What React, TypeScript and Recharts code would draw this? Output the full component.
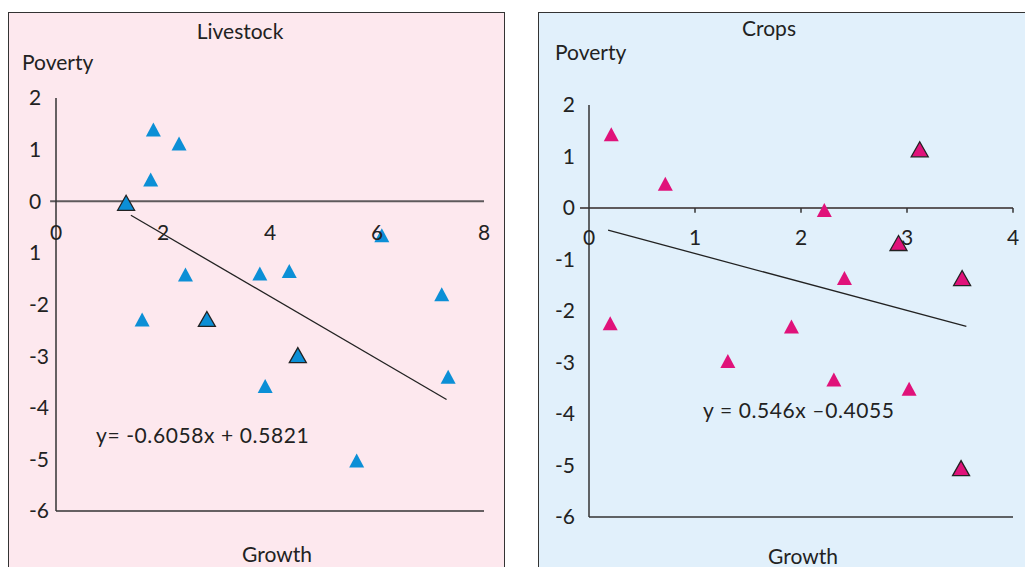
import React from "react";
import { ScatterChart, Scatter, XAxis, YAxis, ReferenceLine } from "recharts";

// Livestock panel
const livestockGrowth = [1.82, 2.3, 1.77, 6.09, 2.42, 3.81, 4.36, 7.21, 1.61, 3.91, 7.33, 5.62];
const livestockPoverty = [1.39, 1.12, 0.42, -0.66, -1.42, -1.4, -1.35, -1.8, -2.29, -3.58, -3.4, -5.02];
const livestockMarkedGrowth = [1.31, 2.82, 4.52];
const livestockMarkedPoverty = [-0.03, -2.28, -2.98];
const livestockFitX = [1.4, 7.3];
const livestockFitY = [-0.27, -3.84];
const livestockXTicks = [0, 2, 4, 6, 8];
const livestockYTicks = [-6, -5, -4, -3, -2, -1, 0, 1, 2];
const livestockYLabels = ["-6", "-5", "-4", "-3", "-2", "1", "0", "1", "2"];

// Crops panel
const cropsGrowth = [0.21, 0.72, 2.22, 2.41, 0.2, 1.91, 1.31, 2.31, 3.02];
const cropsPoverty = [1.43, 0.47, -0.04, -1.36, -2.24, -2.3, -2.97, -3.33, -3.51];
const cropsMarkedGrowth = [3.12, 2.92, 3.52, 3.51];
const cropsMarkedPoverty = [1.14, -0.68, -1.36, -5.05];
const cropsFitX = [0.18, 3.56];
const cropsFitY = [-0.43, -2.3];
const cropsXTicks = [0, 1, 2, 3, 4];
const cropsYTicks = [-6, -5, -4, -3, -2, -1, 0, 1, 2];

const FONT = "Lato, 'Open Sans', sans-serif";
const INK = "#222";
const AXIS_W = 30;
const AXIS_H = 30;

const zip = (xs: number[], ys: number[]) => xs.map((x, i) => ({ x, y: ys[i] }));

const triangle = (fill: string, w: number, h: number, stroke?: string) => (props: any) => {
  const { cx, cy } = props;
  if (cx == null || cy == null) return <g />;
  const pts = `${cx},${cy - h / 2} ${cx - w / 2},${cy + h / 2} ${cx + w / 2},${cy + h / 2}`;
  return <polygon points={pts} fill={fill} stroke={stroke ?? "none"} strokeWidth={stroke ? 1.3 : 0} />;
};

const textStyle = (left: number, top: number, extra: React.CSSProperties = {}): React.CSSProperties => ({
  position: "absolute",
  left,
  top,
  fontSize: 21,
  color: INK,
  fontFamily: FONT,
  whiteSpace: "nowrap",
  lineHeight: "24px",
  ...extra,
});

export default function App() {
  const blue = "#0C8FD6";
  const magenta = "#E0127A";

  return (
    <div style={{ position: "absolute", left: 0, top: 0, width: 1025, height: 567, overflow: "hidden", background: "#fff", fontFamily: FONT }}>
      {/* panel backgrounds */}
      <div style={{ position: "absolute", left: 8, top: 12, width: 497, height: 600, boxSizing: "border-box", border: "1.5px solid #333", background: "#FDE8EE" }} />
      <div style={{ position: "absolute", left: 538, top: 12, width: 520, height: 600, boxSizing: "border-box", border: "1.5px solid #333", background: "#E1F0FB" }} />

      {/* Livestock: plot area spans x 56..484, y 98..511 */}
      <div style={{ position: "absolute", left: 0, top: 0 }}>
        <ScatterChart width={1025} height={567} margin={{ top: 98, right: 541, bottom: 56 - AXIS_H, left: 56 - AXIS_W }}>
          <XAxis
            type="number"
            dataKey="x"
            domain={[0, 8]}
            ticks={livestockXTicks}
            interval={0}
            height={AXIS_H}
            tickLine={false}
            tickSize={0}
            tickMargin={0}
            axisLine={{ stroke: "#333", strokeWidth: 1.5 }}
            tick={{ fill: INK, fontSize: 21, fontFamily: FONT, dy: -286 }}
          />
          <YAxis
            type="number"
            dataKey="y"
            domain={[-6, 2]}
            ticks={livestockYTicks}
            interval={0}
            width={AXIS_W}
            tickLine={false}
            tickSize={0}
            tickMargin={0}
            axisLine={{ stroke: "#333", strokeWidth: 1.5 }}
            tick={{ fill: INK, fontSize: 21, fontFamily: FONT, textAnchor: "start", dx: -27 }}
            tickFormatter={(v: number) => livestockYLabels[livestockYTicks.indexOf(v)]}
          />
          <ReferenceLine segment={[{ x: -0.11, y: 0 }, { x: 8, y: 0 }]} ifOverflow="visible" stroke="#5E5A5C" strokeWidth={2} />
          <ReferenceLine segment={zip(livestockFitX, livestockFitY)} stroke={INK} strokeWidth={1.3} />
          <Scatter data={zip(livestockGrowth, livestockPoverty)} shape={triangle(blue, 15, 14)} isAnimationActive={false} />
          <Scatter data={zip(livestockMarkedGrowth, livestockMarkedPoverty)} shape={triangle(blue, 17, 15, INK)} isAnimationActive={false} />
        </ScatterChart>
      </div>

      {/* Crops: plot area spans x 589..1013, y 105..517 */}
      <div style={{ position: "absolute", left: 0, top: 0 }}>
        <ScatterChart width={1025} height={567} margin={{ top: 105, right: 12, bottom: 50 - AXIS_H, left: 589 - AXIS_W }}>
          <XAxis
            type="number"
            dataKey="x"
            domain={[0, 4]}
            ticks={cropsXTicks}
            interval={0}
            height={AXIS_H}
            tickLine={false}
            tickSize={0}
            tickMargin={0}
            axisLine={{ stroke: "#333", strokeWidth: 1.5 }}
            tick={{ fill: INK, fontSize: 21, fontFamily: FONT, dy: -287 }}
          />
          <YAxis
            type="number"
            dataKey="y"
            domain={[-6, 2]}
            ticks={cropsYTicks}
            interval={0}
            width={AXIS_W}
            tickLine={false}
            tickSize={0}
            tickMargin={14}
            axisLine={{ stroke: "#333", strokeWidth: 1.5 }}
            tick={{ fill: INK, fontSize: 21, fontFamily: FONT }}
          />
          <ReferenceLine segment={[{ x: -0.085, y: 0 }, { x: 4, y: 0 }]} ifOverflow="visible" stroke="#5E5A5C" strokeWidth={2} />
          {cropsXTicks.slice(1).map((t) => (
            <ReferenceLine key={t} segment={[{ x: t, y: 0 }, { x: t, y: -0.09 }]} ifOverflow="visible" stroke="#333" strokeWidth={1.5} />
          ))}
          <ReferenceLine segment={zip(cropsFitX, cropsFitY)} stroke={INK} strokeWidth={1.3} />
          <Scatter data={zip(cropsGrowth, cropsPoverty)} shape={triangle(magenta, 15, 14)} isAnimationActive={false} />
          <Scatter data={zip(cropsMarkedGrowth, cropsMarkedPoverty)} shape={triangle(magenta, 17, 15, INK)} isAnimationActive={false} />
        </ScatterChart>
      </div>

      {/* titles and annotations */}
      <div style={textStyle(240, 19, { transform: "translateX(-50%)" })}>Livestock</div>
      <div style={textStyle(22, 50)}>Poverty</div>
      <div style={textStyle(277, 542, { transform: "translateX(-50%)" })}>Growth</div>
      <div style={textStyle(96, 423, { letterSpacing: 0.6 })}>y= -0.6058x + 0.5821</div>

      <div style={textStyle(769, 16, { transform: "translateX(-50%)" })}>Crops</div>
      <div style={textStyle(555, 40)}>Poverty</div>
      <div style={textStyle(803, 544, { transform: "translateX(-50%)" })}>Growth</div>
      <div style={textStyle(703, 398, { letterSpacing: 0.6 })}>y = 0.546x –0.4055</div>
    </div>
  );
}
